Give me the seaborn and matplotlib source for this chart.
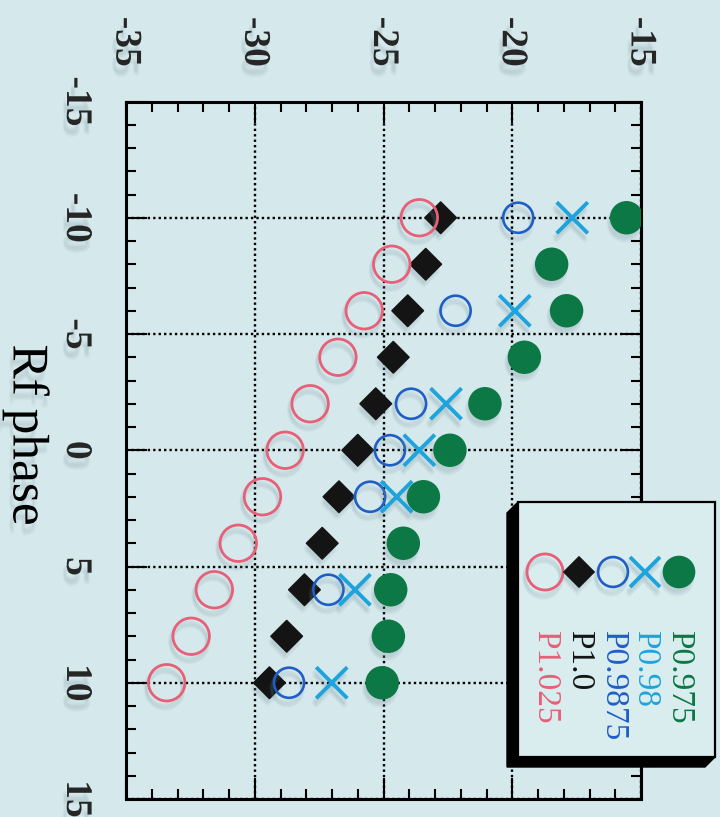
import matplotlib
matplotlib.use("Agg")
import matplotlib.pyplot as plt
import matplotlib.patheffects as pe
import seaborn as sns
import pandas as pd
from matplotlib.lines import Line2D
from matplotlib.patches import Polygon, Rectangle
from matplotlib.ticker import MultipleLocator

# Rf phase settings
rf_all = [-10, -8, -6, -4, -2, 0, 2, 4, 6, 8, 10]
rf_sub = [-10, -6, -2, 0, 2, 6, 10]

# measured values per setting
p0975 = [-15.56, -18.47, -17.89, -19.53, -21.06, -22.42, -23.45, -24.23, -24.72, -24.81, -25.05]
p098 = [-17.67, -19.90, -22.57, -23.61, -24.49, -26.11, -27.01]
p09875 = [-19.77, -22.20, -23.93, -24.75, -25.52, -27.14, -28.67]
p10 = [-22.78, -23.36, -24.06, -24.62, -25.30, -26.00, -26.73, -27.38, -28.07, -28.76, -29.43]
p1025 = [-23.61, -24.68, -25.75, -26.77, -27.85, -28.82, -29.70, -30.64, -31.57, -32.47, -33.42]

series_labels = ["P0.975", "P0.98", "P0.9875", "P1.0", "P1.025"]
value_ticks = [-35, -30, -25, -20, -15]
phase_ticks = [-15, -10, -5, 0, 5, 10, 15]
axis_title = "Rf phase"

BG = "#d5e8eb"
GREEN = "#0b7845"
CYAN = "#1ea3dc"
BLUE = "#1e5ec6"
BLACK = "#141414"
PINK = "#e85f78"
SHADE = "#6f8f9a"

sns.set_theme(style="ticks")
plt.rcParams["font.family"] = ["Liberation Serif", "DejaVu Serif"]

W, H = 720, 817

OFFSETS = [(0, 0), (-1, -1), (1, -1.5), (0, -2.5), (-0.5, 1)]


def fx(px):
    return px / W


def fy(py):
    return 1 - py / H


def soft_shadow(dx=-1.5, dy=-3.5, alpha=0.07):
    # stacked filled offsets give a blurred drop shadow for solid shapes
    return [pe.SimplePatchShadow(offset=(dx + a, dy + b), shadow_rgbFace=SHADE, alpha=alpha)
            for a, b in OFFSETS] + [pe.Normal()]


def soft_line_shadow(dx=-1.5, dy=-3.5, alpha=0.08):
    # same idea for outline-only markers, shadowing the stroke alone
    return [pe.SimpleLineShadow(offset=(dx + a, dy + b), shadow_color=SHADE, alpha=alpha)
            for a, b in OFFSETS] + [pe.Normal()]


fig = plt.figure(figsize=(W / 100, H / 100), dpi=100, facecolor=BG)
ax = fig.add_axes([fx(126), fy(799), fx(641) - fx(126), fy(101.5) - fy(799)])
ax.set_facecolor(BG)

frames = {
    "P0.975": pd.DataFrame({"rf": rf_all, "val": p0975}),
    "P0.98": pd.DataFrame({"rf": rf_sub, "val": p098}),
    "P0.9875": pd.DataFrame({"rf": rf_sub, "val": p09875}),
    "P1.0": pd.DataFrame({"rf": rf_all, "val": p10}),
    "P1.025": pd.DataFrame({"rf": rf_all, "val": p1025}),
}

styles = {
    "P0.975": dict(marker="o", s=580, color=GREEN, edgecolor="none", linewidth=0),
    "P1.0": dict(marker="D", s=255, color=BLACK, edgecolor=BLACK, linewidth=1.2),
    "P0.9875": dict(marker="o", s=470, color=BLUE, facecolor="none", edgecolor=BLUE, linewidth=1.9),
    "P0.98": dict(marker="x", s=500, color=CYAN, linewidth=2.8),
    "P1.025": dict(marker="o", s=690, color=PINK, facecolor="none", edgecolor=PINK, linewidth=2.0),
}
solid = {"P0.975", "P1.0"}

for name in ["P0.975", "P1.0", "P0.9875", "P0.98", "P1.025"]:
    n_before = len(ax.collections)
    sns.scatterplot(data=frames[name], x="val", y="rf", ax=ax, legend=False,
                    zorder=3, **styles[name])
    for coll in ax.collections[n_before:]:
        if name in solid:
            coll.set_path_effects(soft_shadow(alpha=0.06))
        else:
            coll.set_path_effects(soft_line_shadow(alpha=0.07))

# value axis along the top, phase axis running downwards
ax.set_xlim(-35, -15)
ax.set_ylim(15, -15)
ax.set_xticks(value_ticks)
ax.set_xticklabels([str(t) for t in value_ticks], fontweight="bold", fontsize=27)
ax.set_yticks(phase_ticks)
ax.set_yticklabels([str(t) for t in phase_ticks], fontweight="bold", fontsize=27,
                   va="center")
ax.xaxis.set_minor_locator(MultipleLocator(1))
ax.yaxis.set_minor_locator(MultipleLocator(1))
ax.set_xlabel("")
ax.set_ylabel("")

ax.tick_params(which="both", direction="in", top=True, bottom=True, left=True,
               right=True, labeltop=True, labelbottom=False, labelleft=True,
               labelright=False, color="black", width=1.5)
ax.tick_params(which="major", length=15)
ax.tick_params(which="minor", length=7)
ax.tick_params(axis="x", labelrotation=270, pad=25)
ax.tick_params(axis="y", labelrotation=270, pad=23)
for lab in ax.get_xticklabels() + ax.get_yticklabels():
    lab.set_path_effects(soft_shadow(dx=-2, dy=-6, alpha=0.06))
for sp in ax.spines.values():
    sp.set_linewidth(2.2)
    sp.set_color("black")

ax.set_axisbelow(True)
ax.grid(True, which="major", color="black", linestyle=(0, (1, 1.3)), linewidth=1.7)

fig.text(fx(26), fy(435), axis_title, rotation=270, ha="center", va="center",
         fontsize=37, color="black", path_effects=soft_shadow(dx=-2, dy=-6, alpha=0.05))

# legend panel with a bevelled black edge on the left and bottom
shadow = Polygon([(fx(518), fy(502)), (fx(507), fy(513)), (fx(507), fy(767)),
                  (fx(705), fy(767)), (fx(715), fy(757)), (fx(715), fy(502))],
                 closed=True, facecolor="black", edgecolor="black",
                 transform=fig.transFigure, zorder=10)
fig.add_artist(shadow)
panel = Rectangle((fx(518), fy(757)), fx(715) - fx(518), fy(502) - fy(757),
                  facecolor="#d9ecee", edgecolor="black", linewidth=1.6,
                  transform=fig.transFigure, zorder=11)
fig.add_artist(panel)

legend_items = [
    ("P1.025", PINK, dict(marker="o", ms=26, mfc="none", mec=PINK, mew=2.0), 545, False),
    ("P1.0", BLACK, dict(marker="D", ms=15.5, mfc=BLACK, mec=BLACK, mew=1.2), 579, True),
    ("P0.9875", BLUE, dict(marker="o", ms=21.5, mfc="none", mec=BLUE, mew=1.9), 613, False),
    ("P0.98", CYAN, dict(marker="x", ms=22, mec=CYAN, mew=2.8), 645, False),
    ("P0.975", GREEN, dict(marker="o", ms=23.5, mfc=GREEN, mec=GREEN, mew=0), 679, True),
]
for label, col, mk, px, filled in legend_items:
    effects = soft_shadow(alpha=0.06) if filled else soft_line_shadow(alpha=0.07)
    fig.add_artist(Line2D([fx(px)], [fy(572)], linestyle="none",
                          transform=fig.transFigure, zorder=12,
                          path_effects=effects, **mk))
    fig.text(fx(px), fy(630), label, rotation=270, ha="center", va="top",
             fontsize=24, color=col, zorder=12)

fig.savefig("out.png", dpi=100, facecolor=BG)
